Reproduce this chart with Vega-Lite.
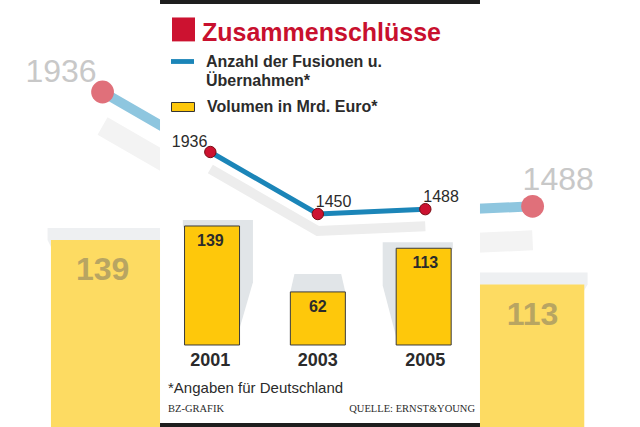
{
  "$schema": "https://vega.github.io/schema/vega-lite/v6.json",
  "width": 640,
  "height": 427,
  "autosize": {"type": "none"},
  "padding": 0,
  "background": "white",
  "config": {"view": {"stroke": null}, "text": {"font": "Liberation Sans", "color": "#2b2b2b"}, "style": {"guide-label": {"lineHeight": 19}}},
  "data": {"values": [
    {"Jahr": 2001, "Fusionen": 1936, "Volumen": 139},
    {"Jahr": 2003, "Fusionen": 1450, "Volumen": 62},
    {"Jahr": 2005, "Fusionen": 1488, "Volumen": 113}
  ]},
  "resolve": {"scale": {"x": "independent", "y": "independent"}},
  "layer": [
    {
      "mark": {"type": "point", "filled": true, "opacity": 1, "strokeWidth": 0},
      "encoding": {
        "x": {"field": "Jahr", "type": "quantitative", "scale": {"domain": [2000.046, 2005.999], "nice": false, "zero": false}, "axis": null},
        "y": {"field": "Volumen", "type": "quantitative", "scale": {"domain": [29.8, 279.2], "nice": false, "zero": false}, "axis": null},
        "shape": {"field": "Jahr", "type": "nominal", "scale": {"domain": [2001, 2003, 2005], "range": ["M-1,0L-1,-0.22L1.55,-0.22L1.55,2.05L1,3.95Z", "M-1,0L-0.85,-0.65L0.85,-0.65L1,0Z", "M1,0L1,-0.22L-1.55,-0.22L-1.55,1.35L-1,3.45Z"]}, "legend": null},
        "size": {"value": 12100},
        "color": {"value": "#eef0f2"}
      }
    },
    {
      "mark": {"type": "line", "strokeWidth": 20, "yOffset": 34, "color": "#f3f3f3"},
      "encoding": {
        "x": {"field": "Jahr", "type": "quantitative", "scale": {"domain": [2000.046, 2005.999], "nice": false, "zero": false}, "axis": null},
        "y": {"field": "Fusionen", "type": "quantitative", "scale": {"domain": [623.2, 2296.4], "nice": false, "zero": false}, "axis": null}
      }
    },
    {
      "mark": {"type": "bar", "width": 110, "color": "#fddb62"},
      "encoding": {
        "x": {"field": "Jahr", "type": "quantitative", "scale": {"domain": [2000.046, 2005.999], "nice": false, "zero": false}, "axis": null},
        "y": {"field": "Volumen", "type": "quantitative", "scale": {"domain": [29.8, 279.2], "nice": false, "zero": false}, "axis": null}
      }
    },
    {
      "mark": {"type": "text", "fontSize": 32, "fontWeight": "bold", "baseline": "alphabetic", "dy": 40, "color": "#b8a562"},
      "transform": [{"filter": "datum.Jahr != 2003"}],
      "encoding": {
        "x": {"field": "Jahr", "type": "quantitative", "scale": {"domain": [2000.046, 2005.999], "nice": false, "zero": false}, "axis": null},
        "y": {"field": "Volumen", "type": "quantitative", "scale": {"domain": [29.8, 279.2], "nice": false, "zero": false}, "axis": null},
        "text": {"field": "Volumen", "type": "nominal"}
      }
    },
    {
      "mark": {"type": "line", "strokeWidth": 10, "color": "#8ec6df"},
      "encoding": {
        "x": {"field": "Jahr", "type": "quantitative", "scale": {"domain": [2000.046, 2005.999], "nice": false, "zero": false}, "axis": null},
        "y": {"field": "Fusionen", "type": "quantitative", "scale": {"domain": [623.2, 2296.4], "nice": false, "zero": false}, "axis": null}
      }
    },
    {
      "mark": {"type": "point", "filled": true, "size": 520, "color": "#e0707a", "opacity": 1},
      "encoding": {
        "x": {"field": "Jahr", "type": "quantitative", "scale": {"domain": [2000.046, 2005.999], "nice": false, "zero": false}, "axis": null},
        "y": {"field": "Fusionen", "type": "quantitative", "scale": {"domain": [623.2, 2296.4], "nice": false, "zero": false}, "axis": null}
      }
    },
    {
      "mark": {"type": "text", "fontSize": 32, "baseline": "alphabetic", "align": "right", "dx": -6, "dy": -10, "color": "#c8c8c8"},
      "transform": [{"filter": "datum.Jahr == 2001"}],
      "encoding": {
        "x": {"field": "Jahr", "type": "quantitative", "scale": {"domain": [2000.046, 2005.999], "nice": false, "zero": false}, "axis": null},
        "y": {"field": "Fusionen", "type": "quantitative", "scale": {"domain": [623.2, 2296.4], "nice": false, "zero": false}, "axis": null},
        "text": {"field": "Fusionen", "type": "nominal"}
      }
    },
    {
      "mark": {"type": "text", "fontSize": 32, "baseline": "alphabetic", "align": "left", "dx": -10, "dy": -16, "color": "#c8c8c8"},
      "transform": [{"filter": "datum.Jahr == 2005"}],
      "encoding": {
        "x": {"field": "Jahr", "type": "quantitative", "scale": {"domain": [2000.046, 2005.999], "nice": false, "zero": false}, "axis": null},
        "y": {"field": "Fusionen", "type": "quantitative", "scale": {"domain": [623.2, 2296.4], "nice": false, "zero": false}, "axis": null},
        "text": {"field": "Fusionen", "type": "nominal"}
      }
    },
    {
      "data": {"values": [{"panel": "BZ"}]},
      "mark": {"type": "rect", "color": "white"},
      "encoding": {
        "x": {"datum": 2000.064, "type": "quantitative", "scale": {"domain": [1997.087, 2008.994], "nice": false, "zero": false}, "axis": null},
        "x2": {"datum": 2006.017},
        "y": {"datum": 403.0, "type": "quantitative", "scale": {"domain": [-95.8, 403.0], "nice": false, "zero": false}, "axis": null},
        "y2": {"datum": -95.8}
      }
    },
    {
      "data": {"values": [{"band": "top"}]},
      "mark": {"type": "rect", "color": "#1e1e1e"},
      "encoding": {
        "x": {"datum": 2000.064, "type": "quantitative", "scale": {"domain": [1997.087, 2008.994], "nice": false, "zero": false}, "axis": null},
        "x2": {"datum": 2006.017},
        "y": {"datum": 403.0, "type": "quantitative", "scale": {"domain": [-95.8, 403.0], "nice": false, "zero": false}, "axis": null},
        "y2": {"datum": 398.3}
      }
    },
    {
      "data": {"values": [{"band": "bottom"}]},
      "mark": {"type": "rect", "color": "#1e1e1e"},
      "encoding": {
        "x": {"datum": 2000.064, "type": "quantitative", "scale": {"domain": [1997.087, 2008.994], "nice": false, "zero": false}, "axis": null},
        "x2": {"datum": 2006.017},
        "y": {"datum": -91.1, "type": "quantitative", "scale": {"domain": [-95.8, 403.0], "nice": false, "zero": false}, "axis": null},
        "y2": {"datum": -95.8}
      }
    },
    {
      "mark": {"type": "point", "filled": true, "opacity": 1, "strokeWidth": 0},
      "encoding": {
        "x": {"field": "Jahr", "type": "quantitative", "scale": {"domain": [1997.087, 2008.994], "nice": false, "zero": false}, "axis": null},
        "y": {"field": "Volumen", "type": "quantitative", "scale": {"domain": [-95.8, 403.0], "nice": false, "zero": false}, "axis": null},
        "shape": {"field": "Jahr", "type": "nominal", "scale": {"domain": [2001, 2003, 2005], "range": ["M-1,0L-1,-0.22L1.55,-0.22L1.55,2.05L1,3.95Z", "M-1,0L-0.85,-0.65L0.85,-0.65L1,0Z", "M1,0L1,-0.22L-1.55,-0.22L-1.55,1.35L-1,3.45Z"]}, "legend": null},
        "size": {"value": 3025},
        "color": {"value": "#e1e5e8"}
      }
    },
    {
      "mark": {"type": "line", "strokeWidth": 10, "yOffset": 17, "color": "#ededed"},
      "encoding": {
        "x": {"field": "Jahr", "type": "quantitative", "scale": {"domain": [1997.087, 2008.994], "nice": false, "zero": false}, "axis": null},
        "y": {"field": "Fusionen", "type": "quantitative", "scale": {"domain": [-219, 3127], "nice": false, "zero": false}, "axis": null}
      }
    },
    {
      "mark": {"type": "bar", "width": 55, "stroke": "#3a3a3a", "strokeWidth": 1},
      "encoding": {
        "x": {"field": "Jahr", "type": "quantitative", "scale": {"domain": [1997.087, 2008.994], "nice": false, "zero": false}, "axis": null},
        "y": {"field": "Volumen", "type": "quantitative", "scale": {"domain": [-95.8, 403.0], "nice": false, "zero": false}, "axis": null},
        "fill": {
          "datum": "Volumen in Mrd. Euro*",
          "type": "nominal",
          "scale": {"range": ["#fec80b"]},
          "legend": {
            "orient": "none", "legendX": 171, "legendY": 95, "title": null, "padding": 0, "offset": 0,
            "labelOffset": 12, "labelLimit": 0, "labelFontSize": 16, "labelFont": "Liberation Sans", "labelFontWeight": "bold", "labelColor": "#2b2b2b", "labelBaseline": "middle",
            "symbolType": "M-1,-0.39H1V0.39H-1Z", "symbolSize": 529, "symbolStrokeColor": "#333333", "symbolStrokeWidth": 1, "symbolFillColor": "#fec80b", "symbolOpacity": 1
          }
        }
      }
    },
    {
      "mark": {"type": "text", "fontSize": 16, "fontWeight": "bold", "baseline": "alphabetic", "dy": 20},
      "encoding": {
        "x": {"field": "Jahr", "type": "quantitative", "scale": {"domain": [1997.087, 2008.994], "nice": false, "zero": false}, "axis": null},
        "y": {"field": "Volumen", "type": "quantitative", "scale": {"domain": [-95.8, 403.0], "nice": false, "zero": false}, "axis": null},
        "text": {"field": "Volumen", "type": "nominal"}
      }
    },
    {
      "mark": {"type": "line", "strokeWidth": 5},
      "encoding": {
        "x": {"field": "Jahr", "type": "quantitative", "scale": {"domain": [1997.087, 2008.994], "nice": false, "zero": false}, "axis": null},
        "y": {"field": "Fusionen", "type": "quantitative", "scale": {"domain": [-219, 3127], "nice": false, "zero": false}, "axis": null},
        "stroke": {
          "datum": "Anzahl der Fusionen u.|Übernahmen*",
          "type": "nominal",
          "scale": {"range": ["#1b85b8"]},
          "legend": {
            "orient": "none", "legendX": 171, "legendY": 50, "title": null, "padding": 0, "offset": 0,
            "labelOffset": 12, "labelLimit": 0, "labelFontSize": 16, "labelFont": "Liberation Sans", "labelFontWeight": "bold", "labelColor": "#2b2b2b", "labelBaseline": "middle",
            "labelExpr": "split(datum.label, '|')",
            "symbolType": "M-1,-0.21H1V0.21H-1Z", "symbolSize": 529, "symbolStrokeWidth": 0, "symbolFillColor": "#1b85b8", "symbolOpacity": 1
          }
        }
      }
    },
    {
      "mark": {"type": "point", "filled": true, "size": 130, "stroke": "#7a0c14", "strokeWidth": 1, "opacity": 1},
      "encoding": {
        "x": {"field": "Jahr", "type": "quantitative", "scale": {"domain": [1997.087, 2008.994], "nice": false, "zero": false}, "axis": null},
        "y": {"field": "Fusionen", "type": "quantitative", "scale": {"domain": [-219, 3127], "nice": false, "zero": false}, "axis": null},
        "color": {
          "datum": "Zusammenschlüsse",
          "type": "nominal",
          "scale": {"range": ["#cc1230"]},
          "legend": {
            "orient": "none", "legendX": 171, "legendY": 20.5, "title": null, "padding": 0, "offset": 0,
            "labelOffset": 6, "labelLimit": 0, "labelFontSize": 25, "labelFont": "Liberation Sans", "labelFontWeight": "bold", "labelColor": "#c8102e", "labelBaseline": "middle",
            "symbolType": "M-1,-1.35H1V0.73H-1Z", "symbolSize": 529, "symbolStrokeWidth": 0, "symbolFillColor": "#c8102e", "symbolOpacity": 1
          }
        }
      }
    },
    {
      "mark": {"type": "text", "fontSize": 16, "baseline": "alphabetic", "align": "right", "dx": -3, "dy": -5},
      "transform": [{"filter": "datum.Jahr == 2001"}],
      "encoding": {
        "x": {"field": "Jahr", "type": "quantitative", "scale": {"domain": [1997.087, 2008.994], "nice": false, "zero": false}, "axis": null},
        "y": {"field": "Fusionen", "type": "quantitative", "scale": {"domain": [-219, 3127], "nice": false, "zero": false}, "axis": null},
        "text": {"field": "Fusionen", "type": "nominal"}
      }
    },
    {
      "mark": {"type": "text", "fontSize": 16, "baseline": "alphabetic", "align": "left", "dx": -2, "dy": -7},
      "transform": [{"filter": "datum.Jahr != 2001"}],
      "encoding": {
        "x": {"field": "Jahr", "type": "quantitative", "scale": {"domain": [1997.087, 2008.994], "nice": false, "zero": false}, "axis": null},
        "y": {"field": "Fusionen", "type": "quantitative", "scale": {"domain": [-219, 3127], "nice": false, "zero": false}, "axis": null},
        "text": {"field": "Fusionen", "type": "nominal"}
      }
    },
    {
      "mark": {"type": "text", "fontSize": 18, "fontWeight": "bold", "baseline": "alphabetic", "dy": 21},
      "encoding": {
        "x": {"field": "Jahr", "type": "quantitative", "scale": {"domain": [1997.087, 2008.994], "nice": false, "zero": false}, "axis": null},
        "y": {"datum": 0, "type": "quantitative", "scale": {"domain": [-95.8, 403.0], "nice": false, "zero": false}, "axis": null},
        "text": {"field": "Jahr", "type": "nominal"}
      }
    },
    {
      "data": {"values": [{"note": "*Angaben für Deutschland"}]},
      "mark": {"type": "text", "fontSize": 15, "baseline": "alphabetic", "align": "left"},
      "encoding": {
        "x": {"datum": 2000.213, "type": "quantitative", "scale": {"domain": [1997.087, 2008.994], "nice": false, "zero": false}, "axis": null},
        "y": {"datum": -56.1, "type": "quantitative", "scale": {"domain": [-95.8, 403.0], "nice": false, "zero": false}, "axis": null},
        "text": {"field": "note", "type": "nominal"}
      }
    },
    {
      "data": {"values": [{"note": "BZ-GRAFIK"}]},
      "mark": {"type": "text", "font": "Liberation Serif", "fontSize": 10.5, "baseline": "alphabetic", "align": "left"},
      "encoding": {
        "x": {"datum": 2000.213, "type": "quantitative", "scale": {"domain": [1997.087, 2008.994], "nice": false, "zero": false}, "axis": null},
        "y": {"datum": -78.3, "type": "quantitative", "scale": {"domain": [-95.8, 403.0], "nice": false, "zero": false}, "axis": null},
        "text": {"field": "note", "type": "nominal"}
      }
    },
    {
      "data": {"values": [{"note": "QUELLE: ERNST&YOUNG"}]},
      "mark": {"type": "text", "font": "Liberation Serif", "fontSize": 10.5, "baseline": "alphabetic", "align": "right"},
      "encoding": {
        "x": {"datum": 2005.924, "type": "quantitative", "scale": {"domain": [1997.087, 2008.994], "nice": false, "zero": false}, "axis": null},
        "y": {"datum": -78.3, "type": "quantitative", "scale": {"domain": [-95.8, 403.0], "nice": false, "zero": false}, "axis": null},
        "text": {"field": "note", "type": "nominal"}
      }
    }
  ]
}
